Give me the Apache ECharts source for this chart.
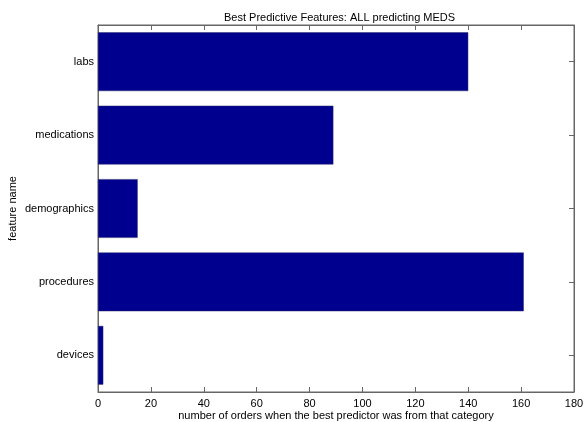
<!DOCTYPE html>
<html>
<head>
<meta charset="utf-8">
<script src="https://cdn.jsdelivr.net/npm/echarts@6/dist/echarts.min.js"></script>
<style>html,body{margin:0;padding:0;background:#fff}#c{width:584px;height:422px}</style>
</head>
<body>
<div id="c"></div>
<script>
var categories = ['labs', 'medications', 'demographics', 'procedures', 'devices'];
var values = [140, 89, 15, 161, 2];
var xTicks = [0, 20, 40, 60, 80, 100, 120, 140, 160, 180];

var font = '"Liberation Sans", Arial, Helvetica, sans-serif';
var lineCol = '#666';
var chart = echarts.init(document.getElementById('c'), null, {renderer: 'canvas'});
chart.setOption({
  animation: false,
  backgroundColor: '#fff',
  textStyle: {fontFamily: font, color: '#000'},
  title: {
    text: 'Best Predictive Features: ALL predicting MEDS',
    left: 219, top: 7,
    textStyle: {fontFamily: font, fontSize: 11, fontWeight: 'normal', color: '#000'}
  },
  grid: {left: 98, right: 10, top: 25, bottom: 30, containLabel: false, outerBoundsMode: 'none',
    show: true, borderColor: lineCol, borderWidth: 1, backgroundColor: 'transparent'},
  xAxis: [{
    type: 'value', min: xTicks[0], max: xTicks[xTicks.length - 1], interval: 20,
    position: 'bottom',
    name: 'number of orders when the best predictor was from that category',
    nameLocation: 'middle', nameGap: 18, nameMoveOverlap: false,
    nameTextStyle: {fontFamily: font, fontSize: 11, color: '#000'},
    axisLine: {show: true, onZero: false, lineStyle: {color: lineCol, width: 1}},
    axisTick: {show: true, inside: true, length: 5, lineStyle: {color: lineCol}},
    axisLabel: {fontFamily: font, fontSize: 11, color: '#000', margin: 6},
    splitLine: {show: false}
  }, {
    type: 'value', min: xTicks[0], max: xTicks[xTicks.length - 1], interval: 20,
    position: 'top',
    axisLine: {show: true, onZero: false, lineStyle: {color: lineCol, width: 1}},
    axisTick: {show: true, inside: true, length: 5, lineStyle: {color: lineCol}},
    axisLabel: {show: false},
    splitLine: {show: false}
  }],
  yAxis: [{
    type: 'category', data: categories, inverse: true, position: 'left',
    name: 'feature name', nameLocation: 'middle', nameGap: 80, nameRotate: 90, nameMoveOverlap: false,
    nameTextStyle: {fontFamily: font, fontSize: 11, color: '#000'},
    axisLine: {show: true, onZero: false, lineStyle: {color: lineCol, width: 1}},
    axisTick: {show: false},
    axisLabel: {fontFamily: font, fontSize: 11, color: '#000', margin: 4},
    splitLine: {show: false}
  }, {
    type: 'category', data: categories, inverse: true, position: 'right',
    axisLine: {show: true, onZero: false, lineStyle: {color: lineCol, width: 1}},
    axisTick: {show: true, inside: true, alignWithLabel: true, length: 5, lineStyle: {color: lineCol}},
    axisLabel: {show: false},
    splitLine: {show: false}
  }],
  series: [{
    type: 'bar', data: values, xAxisIndex: 0, yAxisIndex: 0,
    barCategoryGap: '20%',
    itemStyle: {color: '#00008F', borderColor: '#2a2a6a', borderWidth: 0.5},
    z: 1
  }]
});
</script>
</body>
</html>
